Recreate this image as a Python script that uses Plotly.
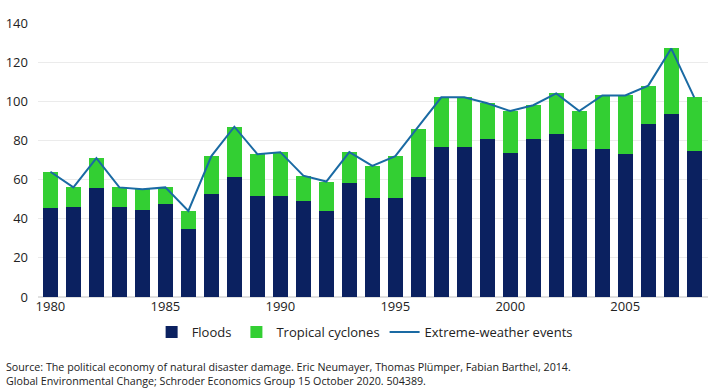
import plotly.graph_objects as go

years = list(range(1980, 2009))
floods = [45.5, 46, 55.5, 46, 44.5, 47.5, 34.5, 52.5, 61.5, 51.5,
          51.5, 49, 44, 58, 50.5, 50.5, 61.5, 76.5, 76.5, 80.5,
          73.5, 80.5, 83.5, 75.5, 75.5, 73, 88.5, 93.5, 74.5]
cyclones = [18.5, 10, 15.5, 10, 10.5, 8.5, 9.5, 19.5, 25.5, 21.5,
            22.5, 13, 15, 16, 16.5, 21.5, 24.5, 25.5, 25.5, 18.5,
            21.5, 17.5, 20.5, 19.5, 27.5, 30, 19.5, 33.5, 27.5]
extreme = [64, 56, 71, 56, 55, 56, 44, 72, 87, 73,
           74, 62, 59, 74, 67, 72, 87, 102, 102, 99,
           95, 98, 104, 95, 103, 103, 108, 127, 102]
y_ticks = [0, 20, 40, 60, 80, 100, 120, 140]
x_ticks = [1980, 1985, 1990, 1995, 2000, 2005]

source_text = ("Source: The political economy of natural disaster damage. Eric Neumayer, Thomas Plümper, Fabian Barthel, 2014.<br>"
               "Global Environmental Change; Schroder Economics Group 15 October 2020. 504389.")

fig = go.Figure()
fig.add_trace(go.Bar(x=years, y=floods, name="Floods", marker_color="#0b2160",
                     marker_line_width=0))
fig.add_trace(go.Bar(x=years, y=cyclones, name="Tropical cyclones", marker_color="#33cf33",
                     marker_line_width=0))
fig.add_trace(go.Scatter(x=years, y=extreme, name="Extreme-weather events", mode="lines",
                         line=dict(color="#1a6aa3", width=2)))

fig.update_layout(
    width=713, height=391,
    margin=dict(l=38, r=5, t=23, b=94),
    barmode="stack", bargap=0.35,
    paper_bgcolor="white", plot_bgcolor="white",
    font=dict(family="Open Sans, sans-serif", size=13, color="#222"),
    legend=dict(orientation="h", x=0.4875, xanchor="center", y=-0.128, yanchor="middle",
                font=dict(size=13, color="#222"), itemwidth=30, tracegroupgap=0,
                traceorder="normal"),
    xaxis=dict(range=[1979.46, 2008.6], tickvals=x_ticks, showgrid=False, ticks="",
               showline=False, zeroline=False, automargin=False),
    yaxis=dict(range=[0, 140], tickvals=y_ticks, showgrid=True, gridcolor="#ebebeb",
               gridwidth=1, zeroline=True, zerolinecolor="#e0e0e0", ticks="",
               ticklabelstandoff=9, automargin=False),
    annotations=[dict(text=source_text, xref="paper", yref="paper",
                      x=-0.0507, y=-0.2226, xanchor="left", yanchor="top", align="left",
                      showarrow=False, font=dict(size=10.7, color="#222"))],
)

fig.write_html("out.html", config={"displayModeBar": False},
               post_script="document.body.style.margin='0';document.body.style.overflow='hidden';")
